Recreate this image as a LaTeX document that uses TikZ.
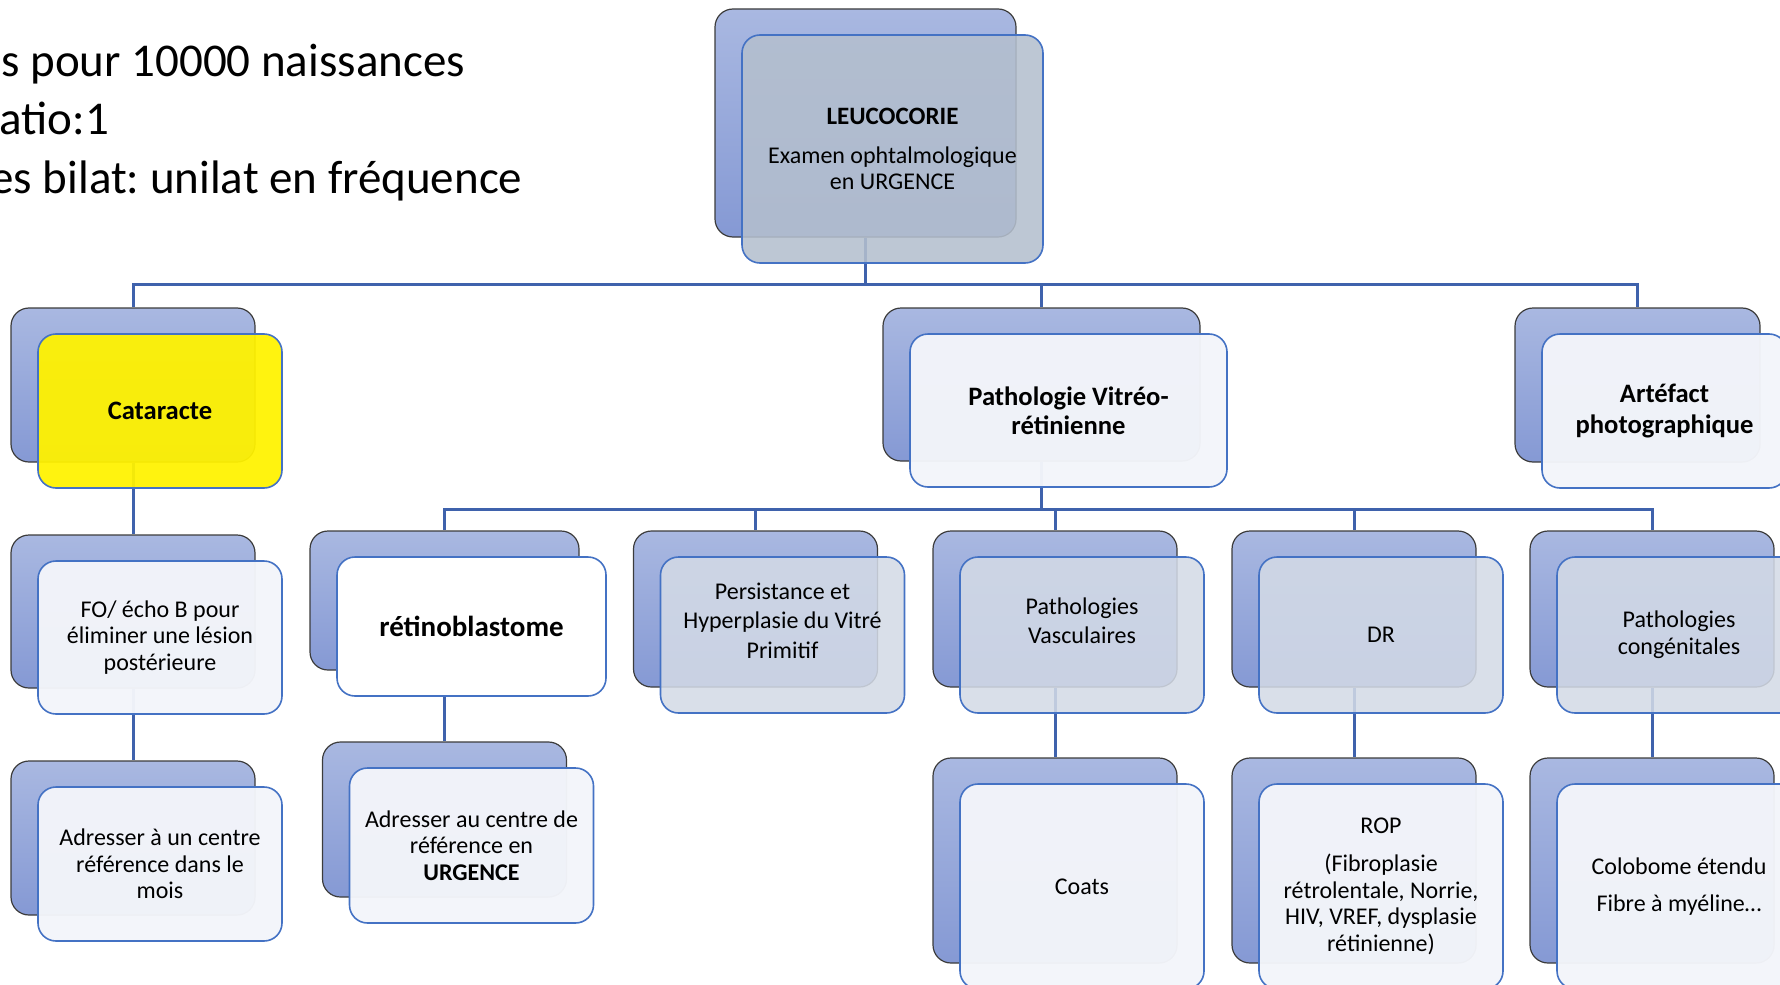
\documentclass[tikz,border=0pt]{standalone}
\usepackage{fontspec}
\setmainfont{Carlito}
\usepackage{xcolor}
\usepackage{tikz}
\usetikzlibrary{positioning,calc}
\frenchspacing

\definecolor{backtop}{HTML}{A9B8E1}
\definecolor{backbot}{HTML}{8599D4}
\definecolor{backline}{HTML}{3C3C3C}
\definecolor{frontline}{HTML}{4472C4}
\definecolor{linkcol}{HTML}{3F62AC}
\definecolor{palefill}{HTML}{F3F5FA}
\definecolor{grayfill}{HTML}{D3DAE6}
\definecolor{leucofill}{HTML}{B4BFCE}

\begin{document}
\begin{tikzpicture}[x=0.5pt, y=-0.5pt,
	backbox/.style={draw=backline, line width=0.6pt, rounded corners=9pt, top color=backtop, bottom color=backbot, minimum width=122pt, minimum height=78pt, inner sep=0pt},
	frontbox/.style={draw=frontline, line width=0.8pt, rounded corners=9pt, fill=palefill, fill opacity=0.97, text opacity=1, align=center, minimum width=122pt, minimum height=78pt, inner sep=2pt, font=\fontsize{12}{13.3}\selectfont},
	grayfront/.style={frontbox, fill=grayfill, fill opacity=0.87},
	headtext/.style={font=\bfseries\fontsize{13.3}{14.6}\selectfont},
	link/.style={draw=linkcol, line width=1.5pt},
	stat/.style={anchor=base west, inner sep=0pt, font=\fontsize{23.5}{29}\selectfont}]

		\useasboundingbox (0,0) rectangle (1780,984);

		% texte en haut a gauche
		\node[stat] (incid) at (1,77) {s pour 10000 naissances};
		\node[stat] (ratio) at (-1,135) {atio:1};
		\node[stat] (bilat) at (-10,193) {es bilat: unilat en fréquence};

		% boites arriere
		\node[backbox, minimum width=150.5pt, minimum height=114pt] (leucoB) at (865.5,123) {};
		\node[backbox, minimum height=77pt] (cataB) at (133,385) {};
		\node[backbox, minimum width=158.5pt, minimum height=76.5pt] (vitreoB) at (1041.5,384.5) {};
		\node[backbox, minimum width=122.5pt, minimum height=77pt] (artefB) at (1637.5,385) {};
		\node[backbox, minimum height=76.5pt] (foB) at (133,611.5) {};
		\node[backbox, minimum width=134.5pt, minimum height=69.5pt] (retinoB) at (444.5,600.5) {};
		\node[backbox] (persistB) at (755.5,609) {};
		\node[backbox] (vascB) at (1055,609) {};
		\node[backbox] (drB) at (1354,609) {};
		\node[backbox] (congB) at (1652,609) {};
		\node[backbox, minimum height=77pt] (adrcataB) at (133,838) {};
		\node[backbox, minimum height=77.5pt] (adrretinoB) at (444.5,819.5) {};
		\node[backbox, minimum height=102.5pt] (coatsB) at (1055,860.5) {};
		\node[backbox, minimum height=102.5pt] (ropB) at (1354,860.5) {};
		\node[backbox, minimum height=102.5pt] (colobB) at (1652,860.5) {};

		% liaisons
		\foreach \c in {cataB, vitreoB, artefB}
			\draw[link] (leucoB.south) -- ++(0,47) -| (\c.north);
		\foreach \c in {retinoB, persistB, vascB, drB, congB}
			\draw[link] (vitreoB.south) -- ++(0,48) -| (\c.north);
		\draw[link] (cataB.south) -- (foB.north);
		\draw[link] (foB.south) -- (adrcataB.north);
		\draw[link] (retinoB.south) -- (adrretinoB.north);
		\draw[link] (vascB.south) -- (coatsB.north);
		\draw[link] (drB.south) -- (ropB.north);
		\draw[link] (congB.south) -- (colobB.north);

		% boites avant
		\node[frontbox, fill=leucofill, fill opacity=0.88, minimum width=150.5pt, minimum height=114pt] (leucoF) at (892.5,149) {{\bfseries\fontsize{12.5}{14}\selectfont LEUCOCORIE}\\[6pt]Examen ophtalmologique\\en URGENCE};
		\node[frontbox, headtext, fill=yellow, fill opacity=0.94, minimum height=77pt] (cataF) at (160,411) {Cataracte};
		\node[frontbox, headtext, minimum width=158.5pt, minimum height=76.5pt] (vitreoF) at (1068.5,410.5) {Pathologie Vitréo-\\rétinienne};
		\node[frontbox, font=\bfseries\fontsize{13.3}{15.3}\selectfont, minimum width=122.5pt, minimum height=77pt] (artefF) at (1664.5,411) {Artéfact\\photographique};
		\node[frontbox, minimum height=76.5pt] (foF) at (160,637.5) {FO/ écho B pour\\éliminer une lésion\\postérieure};
		\node[frontbox, fill=white, fill opacity=1, font=\bfseries\fontsize{14.5}{17}\selectfont, minimum width=134.5pt, minimum height=69.5pt] (retinoF) at (471.5,626.5) {rétinoblastome};
		\node[grayfront, font=\fontsize{12}{14.8}\selectfont, text depth=14.5pt] (persistF) at (782.5,635) {Persistance et\\Hyperplasie du Vitré\\Primitif};
		\node[grayfront, font=\fontsize{12}{14.8}\selectfont, text depth=14.5pt] (vascF) at (1082,635) {Pathologies\\Vasculaires};
		\node[grayfront] (drF) at (1381,635) {DR};
		\node[grayfront] (congF) at (1679,635) {Pathologies\\congénitales};
		\node[frontbox, minimum height=77pt] (adrcataF) at (160,864) {Adresser à un centre\\référence dans le\\mois};
		\node[frontbox, minimum height=77.5pt] (adrretinoF) at (471.5,845.5) {Adresser au centre de\\référence en\\\textbf{URGENCE}};
		\node[frontbox, minimum height=102.5pt] (coatsF) at (1082,886.5) {Coats};
		\node[frontbox, minimum height=102.5pt] (ropF) at (1381,886.5) {ROP\\[5.5pt](Fibroplasie\\rétrolentale, Norrie,\\HIV, VREF, dysplasie\\rétinienne)};
		\node[frontbox, minimum height=102.5pt] (colobF) at (1679,886.5) {Colobome étendu\\[5.5pt]Fibre à myéline…};
	\end{tikzpicture}
\end{document}
